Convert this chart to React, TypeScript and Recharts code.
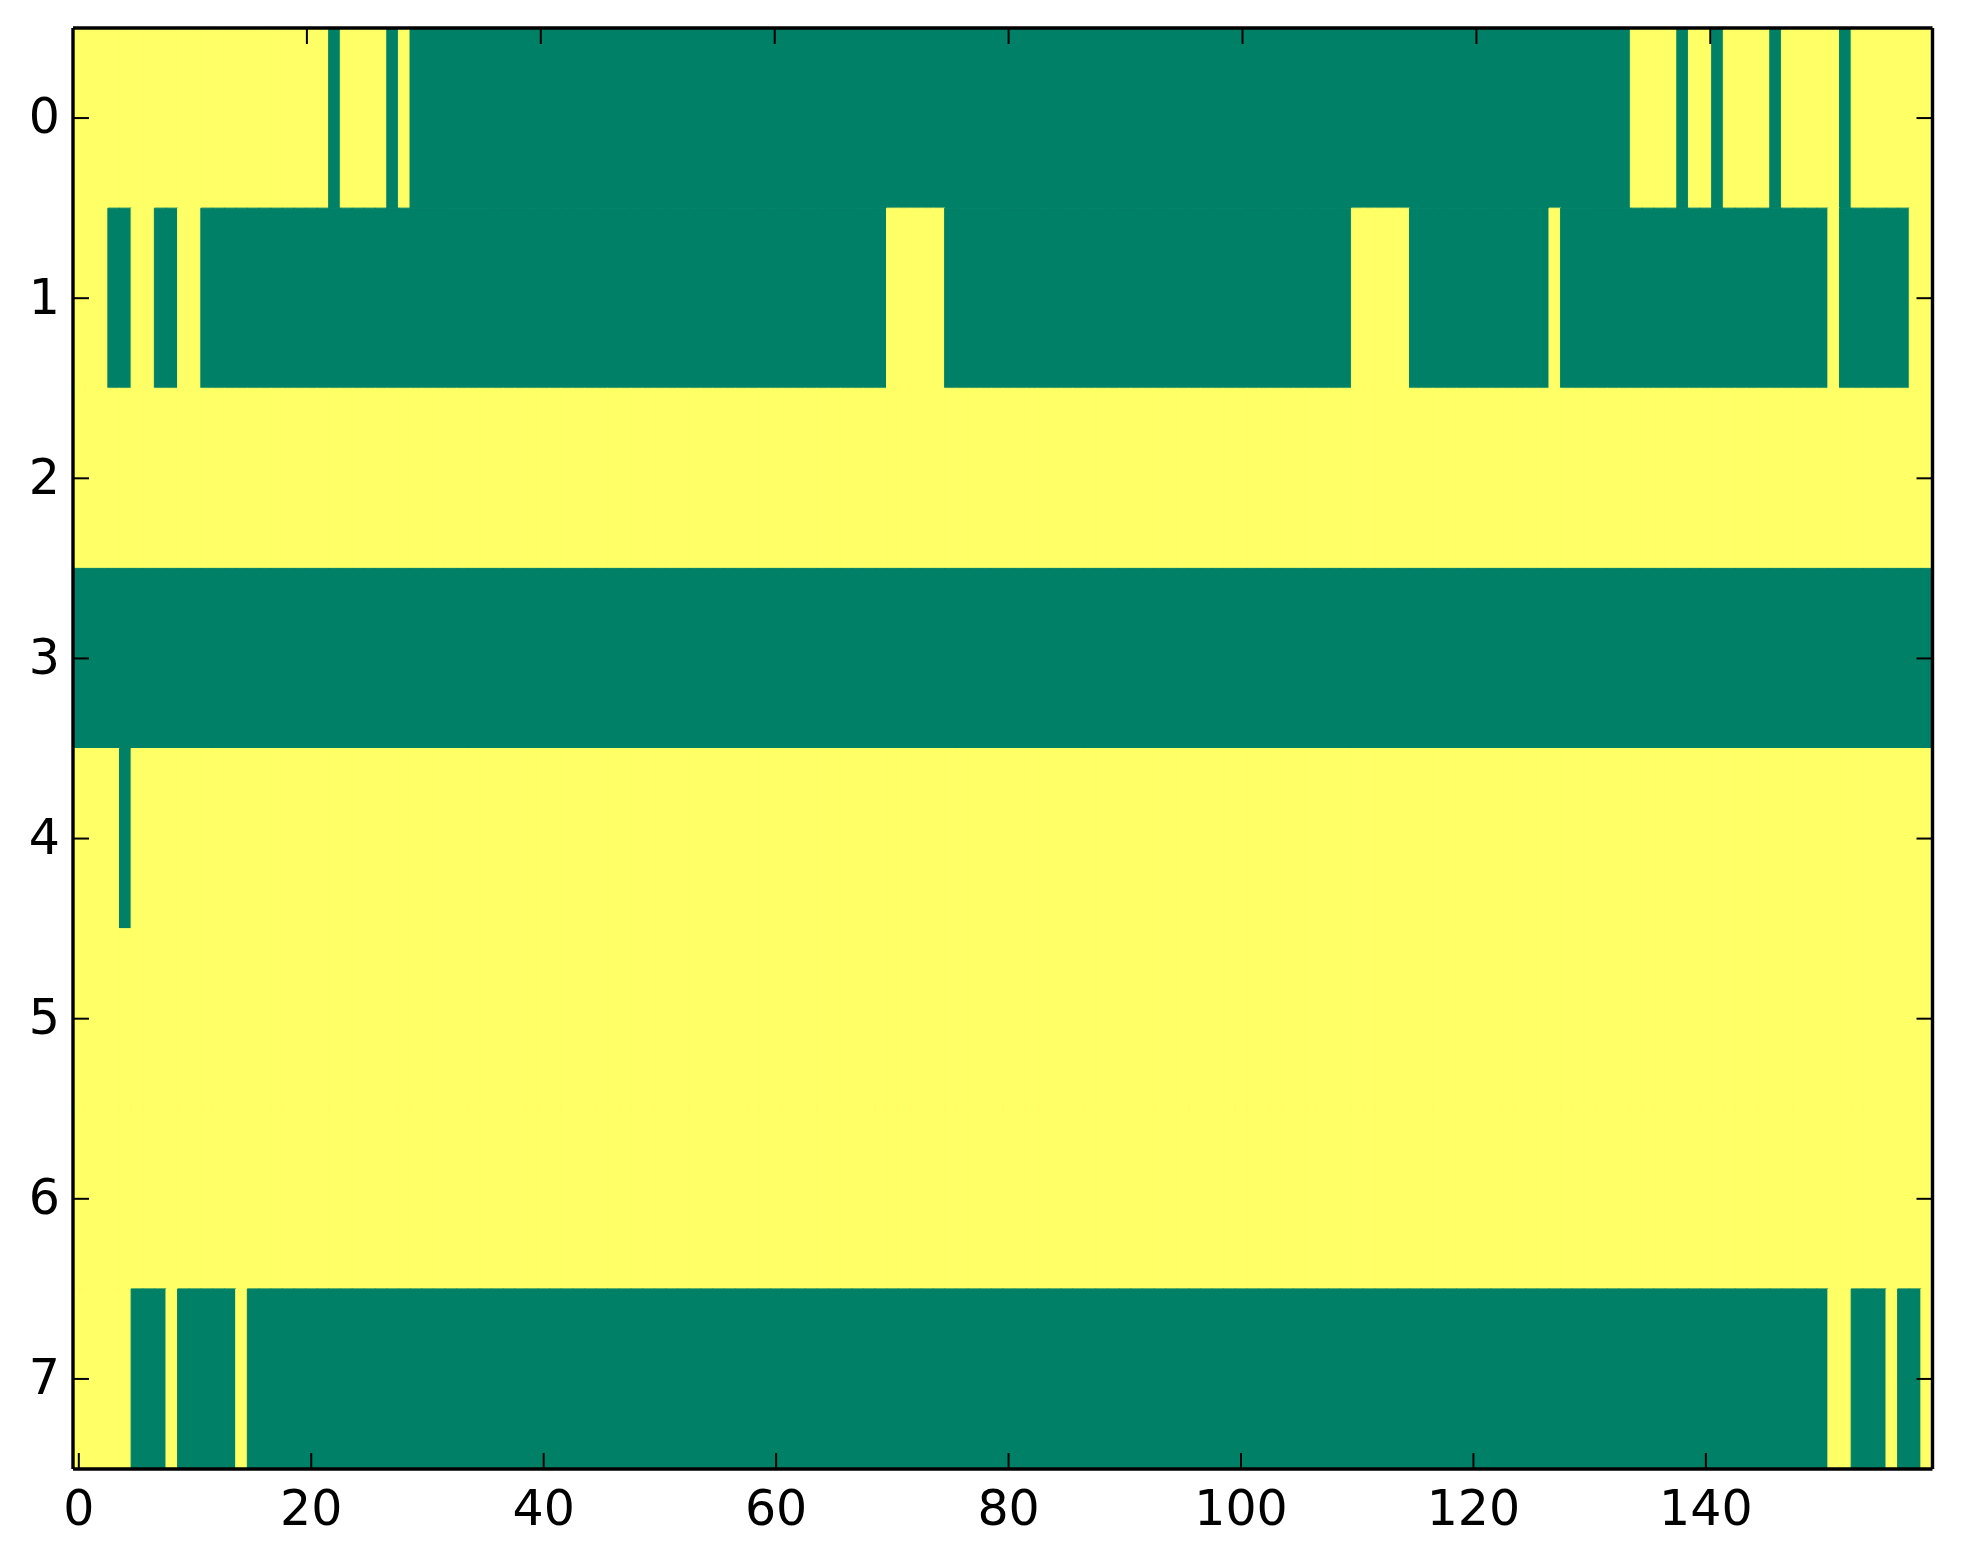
import { BarChart, Bar, XAxis, YAxis, Cell } from 'recharts';

const LOW = '#008066';
const HIGH = '#ffff66';
const FONT = '"DejaVu Sans", sans-serif';

const numCols = 160;
const rowNames = ['0', '1', '2', '3', '4', '5', '6', '7'];
const xTicks = [0, 20, 40, 60, 80, 100, 120, 140];
const yTicks = [0.5, 1.5, 2.5, 3.5, 4.5, 5.5, 6.5, 7.5];

// inclusive column ranges holding the low (green) value, one list per row
const row0Low = [[22, 22], [27, 27], [29, 133], [138, 138], [141, 141], [146, 146], [152, 152]];
const row1Low = [[3, 4], [7, 8], [11, 69], [75, 109], [115, 126], [128, 150], [152, 157]];
const row2Low = [];
const row3Low = [[0, 159]];
const row4Low = [[4, 4]];
const row5Low = [];
const row6Low = [];
const row7Low = [[5, 7], [9, 13], [15, 150], [153, 155], [157, 158]];

const lowRuns = [row0Low, row1Low, row2Low, row3Low, row4Low, row5Low, row6Low, row7Low];

const isLow = (runs, c) => runs.some(([a, b]) => c >= a && c <= b);

// every cell is one unit tall, its colour carries the value
const data = Array.from({ length: numCols }, (_, c) => {
  const d = { col: c };
  rowNames.forEach((_, r) => { d[`r${r}`] = 1; });
  return d;
});

const tickStyle = { fontSize: 49, fontFamily: FONT, fill: '#000' };
const lineStyle = { stroke: '#000', strokeWidth: 3.4 };
const tickLineStyle = { stroke: '#000', strokeWidth: 2 };
const noLabel = () => '';

export default function App() {
  return (
    <div style={{ position: 'absolute', left: 0, top: 0, background: '#fff' }}>
      <BarChart
        width={1963}
        height={1564}
        data={data}
        margin={{ top: 28, right: 30.5, left: 0, bottom: 0 }}
        barCategoryGap={0}
        barGap={0}
      >
        {lowRuns.map((runs, r) => (
          <Bar
            key={r}
            xAxisId="bottom"
            yAxisId="left"
            dataKey={`r${r}`}
            stackId="cells"
            isAnimationActive={false}
          >
            {data.map((d) => {
              const color = isLow(runs, d.col) ? LOW : HIGH;
              return <Cell key={d.col} fill={color} stroke={color} strokeWidth={1} />;
            })}
          </Bar>
        ))}
        <XAxis
          xAxisId="bottom"
          dataKey="col"
          type="category"
          height={95}
          ticks={xTicks}
          interval={0}
          tickSize={-16}
          tickMargin={37}
          tick={tickStyle}
          axisLine={lineStyle}
          tickLine={tickLineStyle}
        />
        <XAxis
          xAxisId="top"
          orientation="top"
          type="number"
          domain={[-0.5, 159.5]}
          allowDataOverflow
          ticks={xTicks}
          interval={0}
          mirror
          tickFormatter={noLabel}
          tickSize={16}
          axisLine={lineStyle}
          tickLine={tickLineStyle}
        />
        <YAxis
          yAxisId="left"
          type="number"
          domain={[0, 8]}
          reversed
          allowDataOverflow
          width={73}
          ticks={yTicks}
          interval={0}
          tickFormatter={(v) => String(v - 0.5)}
          tickSize={-16}
          tickMargin={29}
          tick={{ ...tickStyle, dy: -2 }}
          axisLine={lineStyle}
          tickLine={tickLineStyle}
        />
        <YAxis
          yAxisId="right"
          orientation="right"
          type="number"
          domain={[0, 8]}
          reversed
          allowDataOverflow
          ticks={yTicks}
          interval={0}
          mirror
          tickFormatter={noLabel}
          tickSize={16}
          axisLine={lineStyle}
          tickLine={tickLineStyle}
        />
      </BarChart>
    </div>
  );
}
